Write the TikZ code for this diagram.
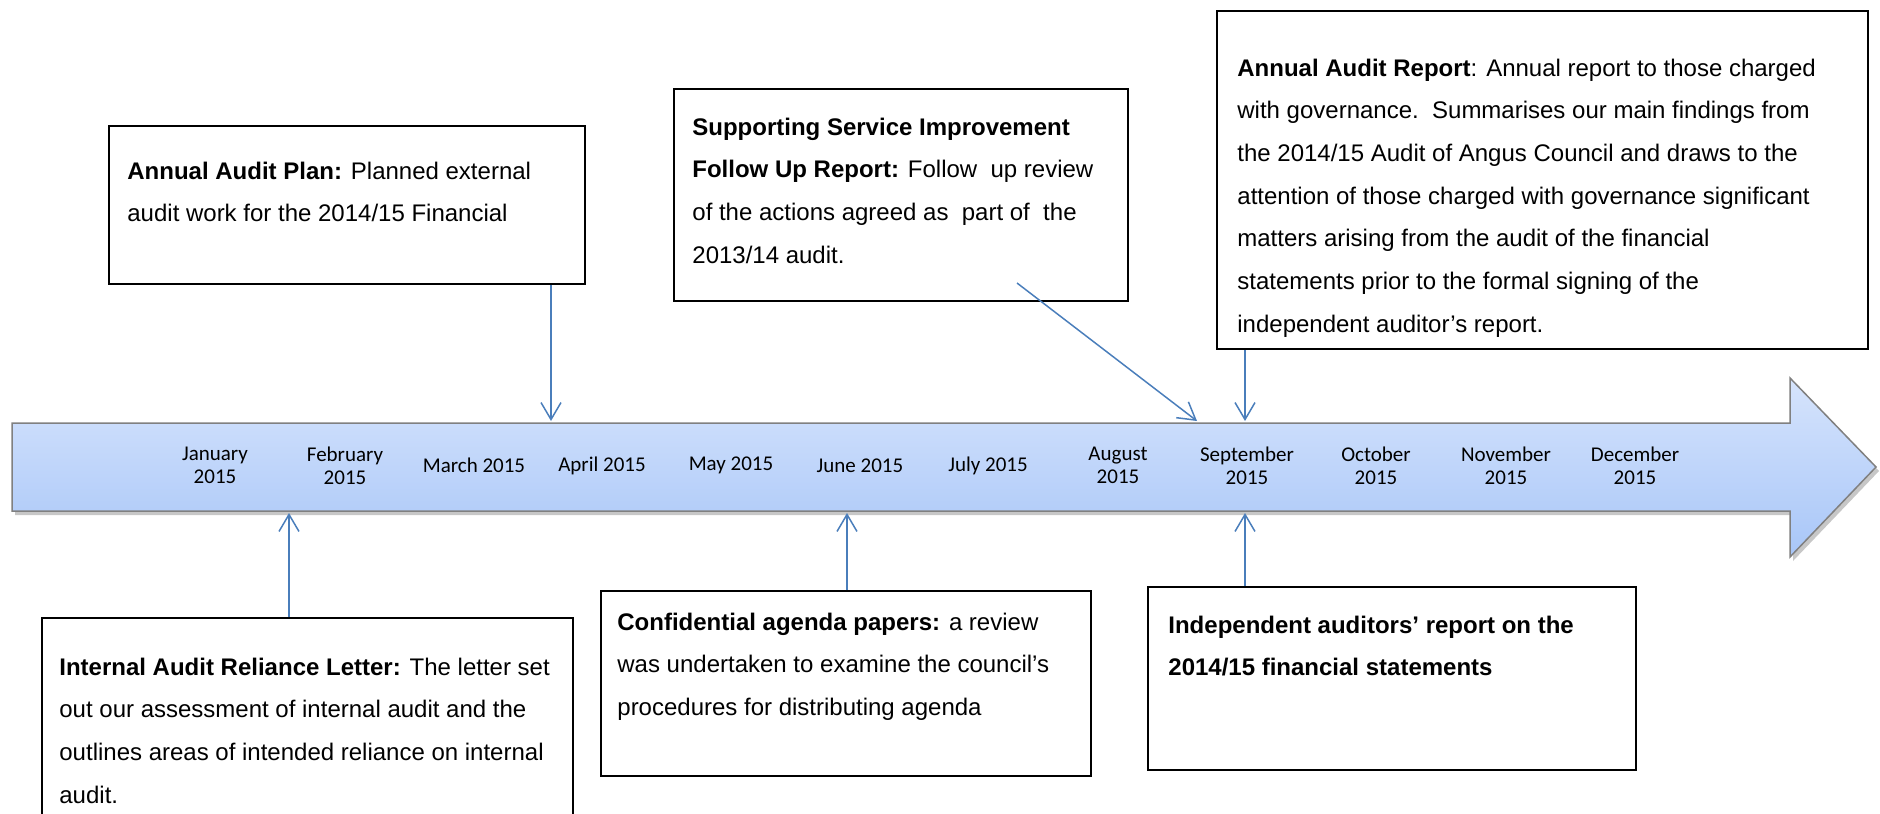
\documentclass[tikz,border=0pt]{standalone}
\usepackage{fontspec}
\setmainfont{Liberation Sans}
\newfontfamily\calibri{Carlito}
\usetikzlibrary{arrows.meta}
\definecolor{connblue}{RGB}{74,126,187}
\definecolor{bartop}{RGB}{214,228,252}
\definecolor{barbot}{RGB}{168,198,248}
\definecolor{barline}{RGB}{128,128,128}
\tikzset{
  box/.style={draw=black, line width=1pt, anchor=north west, inner sep=0pt},
  boxtext/.style={anchor=base west, inner sep=0pt, font=\fontsize{12}{21.35}\selectfont},
  month/.style={font=\calibri\fontsize{10.5}{11.5}\selectfont, align=center, inner sep=0pt},
  conn/.style={draw=connblue, line width=0.75pt, -{Straight Barb[length=8.5pt,width=10pt]}},
}
\newcommand{\boxpar}[1]{\parbox[t]{330pt}{\raggedright #1}}
\begin{document}
\begin{tikzpicture}[x=0.5pt,y=-0.5pt]
\useasboundingbox (0,0) rectangle (1880,814);
% timeline arrow
\fill[black,opacity=0.22] (15,427) -- (1793,427) -- (1793,382) -- (1879,471) -- (1793,561) -- (1793,515) -- (15,515) -- cycle;
\shade[top color=bartop, bottom color=barbot, draw=barline, line width=0.75pt]
  (12,423) -- (1790,423) -- (1790,378) -- (1876,467) -- (1790,557) -- (1790,511) -- (12,511) -- cycle;
% months
\node[month] (m1) at (215,465.5) {January\\2015};
\node[month] (m2) at (345,465.5) {February\\2015};
\node[month] (m3) at (474,465.5) {March 2015};
\node[month] (m4) at (602,465.5) {April 2015};
\node[month] (m5) at (731,465.5) {May 2015};
\node[month] (m6) at (860,465.5) {June 2015};
\node[month] (m7) at (988,465.5) {July 2015};
\node[month] (m8) at (1118,465.5) {August\\2015};
\node[month] (m9) at (1247,465.5) {September\\2015};
\node[month] (m10) at (1376,465.5) {October\\2015};
\node[month] (m11) at (1506,465.5) {November\\2015};
\node[month] (m12) at (1635,465.5) {December\\2015};
% boxes
\node[box, minimum width=238pt, minimum height=79pt] (plan) at (108,125) {};
\node[box, minimum width=227pt, minimum height=106pt] (supp) at (673,88) {};
\node[box, minimum width=325.5pt, minimum height=169pt] (report) at (1216,10) {};
\node[box, minimum width=265.5pt, minimum height=110pt] (internal) at (41,617) {};
\node[box, minimum width=245pt, minimum height=92.5pt] (conf) at (600,590) {};
\node[box, minimum width=244pt, minimum height=91.5pt] (indep) at (1147,586) {};
% texts
\node[boxtext] (plantext) at (127,179) {\boxpar{\textbf{Annual Audit Plan:} Planned external\\audit work for the 2014/15 Financial}};
\node[boxtext] (supptext) at (692,135) {\boxpar{\textbf{Supporting Service Improvement}\\\textbf{Follow Up Report:} Follow\ \ up review\\of the actions agreed as\ \ part of\ \ the\\2013/14 audit.}};
\node[boxtext] (reporttext) at (1237,76) {\boxpar{\textbf{Annual Audit Report}: Annual report to those charged\\with governance.\ \ Summarises our main findings from\\the 2014/15 Audit of Angus Council and draws to the\\attention of those charged with governance significant\\matters arising from the audit of the financial\\statements prior to the formal signing of the\\independent auditor’s report.}};
\node[boxtext] (internaltext) at (59,675) {\boxpar{\textbf{Internal Audit Reliance Letter:} The letter set\\out our assessment of internal audit and the\\outlines areas of intended reliance on internal\\audit.}};
\node[boxtext] (conftext) at (617,630) {\boxpar{\textbf{Confidential agenda papers:} a review\\was undertaken to examine the council’s\\procedures for distributing agenda}};
\node[boxtext] (indeptext) at (1168,633) {\boxpar{\textbf{Independent auditors’ report on the}\\\textbf{2014/15 financial statements}}};
% connector end points on the timeline
\coordinate (t1) at (551,421);
\coordinate (s0) at (1017,283);
\coordinate (t3) at (1197,421);
\coordinate (t4) at (1245,421);
\coordinate (b1) at (289,513);
\coordinate (b2) at (847,513);
\coordinate (b3) at (1245,513);
% connectors
\draw[conn] (plan.south -| t1) -- (t1);
\draw[conn] (s0) -- (t3);
\draw[conn] (report.south -| t4) -- (t4);
\draw[conn] (internal.north -| b1) -- (b1);
\draw[conn] (conf.north -| b2) -- (b2);
\draw[conn] (indep.north -| b3) -- (b3);
\end{tikzpicture}
\end{document}
